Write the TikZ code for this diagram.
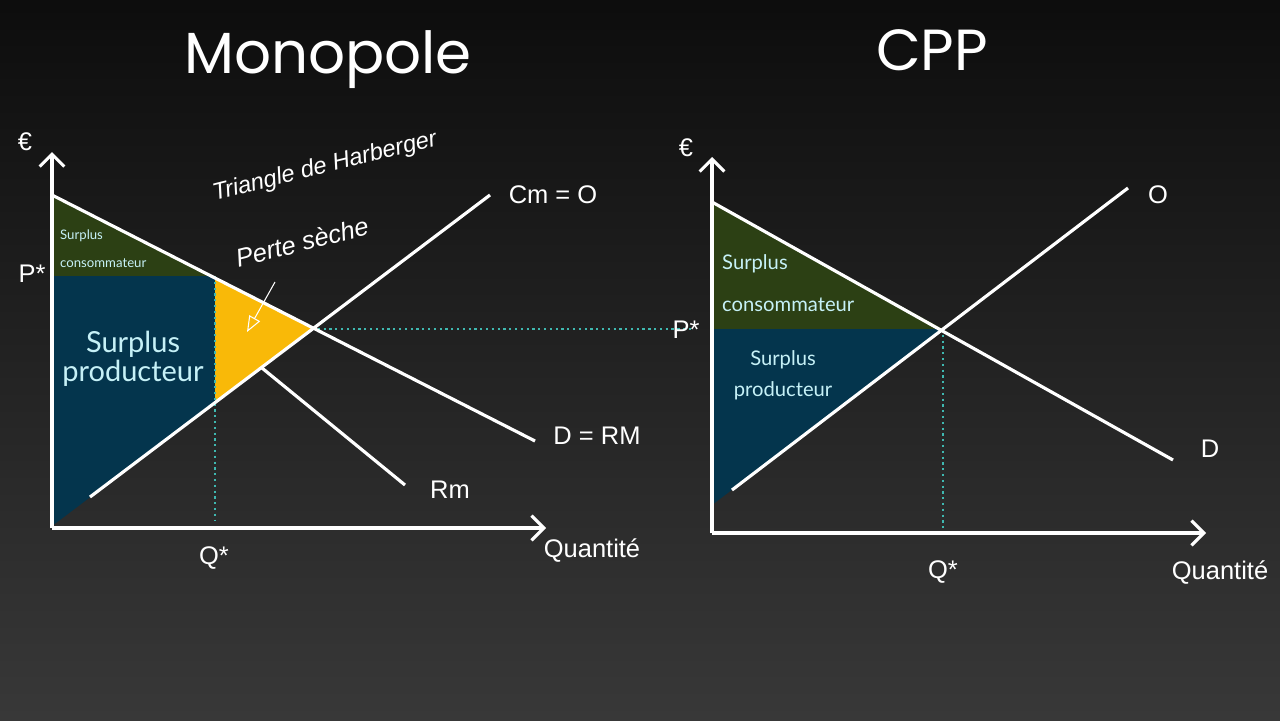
\documentclass[tikz,border=0pt]{standalone}
\usepackage{fontspec}
\setmainfont{Liberation Sans}
\newfontfamily\lato{Lato}
\newfontfamily\hand{Poppins}
\usetikzlibrary{arrows.meta}
\definecolor{cgreen}{HTML}{2C4014}
\definecolor{cblue}{HTML}{04354D}
\definecolor{cyel}{HTML}{F9B908}
\definecolor{ctxt}{HTML}{C6F1F7}
\definecolor{cdot}{HTML}{3FB8B0}
\tikzset{
 curve/.style={white,line width=1.8pt},
 axis/.style={white,line width=1.8pt,-{Straight Barb[length=7pt,width=14pt]}},
 dots/.style={cdot,line width=1.3pt,dotted},
 lab/.style={white,font=\fontsize{14.5}{14.5}\selectfont},
 sur/.style={ctxt,font=\lato\fontsize{#1}{#1}\selectfont,align=left},
}
\begin{document}
\begin{tikzpicture}[x=0.02cm,y=-0.02cm]
\shade[top color=black!95,bottom color=black!78] (0,0) rectangle (1280,720);
\useasboundingbox (0,0) rectangle (1280,720);
% titles
\node[white,font=\hand\fontsize{33}{33}\selectfont] (t1) at (328,60) {Monopole};
\node[white,font=\hand\fontsize{33}{33}\selectfont] (t2) at (932,50) {CPP};
% left graph fills
\fill[cgreen] (52,195) -- (215,278) -- (52,278) -- cycle;
\fill[cblue] (52,276) -- (215,276) -- (215,403) -- (52,526) -- cycle;
\fill[cyel] (215,278) -- (312,328) -- (215,403) -- cycle;
\draw[dots] (215,276) -- (215,520);
\draw[dots] (312,329) -- (692,329);
\coordinate (lo) at (52,528);
\coordinate (ly) at (52,152);
\coordinate (lx) at (546,528);
\draw[axis] (lo) -- (ly);
\draw[axis] (lo) -- (lx);
\draw[curve] (52,195) -- (535,441);
\draw[curve] (90,497) -- (490,195);
\draw[curve] (262,368) -- (405,485);
\node[lab] (e1) at (25,142) {€};
\node[lab] (p1) at (32,274) {P*};
\node[lab] (q1) at (214,558) {Q*};
\node[lab] (x1) at (592,551) {Quantité};
\node[lab] (o1) at (553,195) {Cm = O};
\node[lab] (d1) at (597,436) {D = RM};
\node[lab] (r1) at (450,490) {Rm};
\node[sur=7.5,anchor=west] (sc1) at (54,236) {Surplus};
\node[sur=7.5,anchor=west] (sc2) at (54,263) {consommateur};
\node[sur=16.5,align=center] (sp1) at (133,359) {Surplus\\[0pt]producteur};
\node[white,rotate=14,font=\itshape\fontsize{13.5}{13.5}\selectfont] (h1) at (325,167) {Triangle de Harberger};
\node[white,rotate=14,font=\itshape\fontsize{14.5}{14.5}\selectfont] (h2) at (302,242) {Perte sèche};
\draw[white,line width=0.6pt,-{Triangle[open,length=9pt,width=7pt]}] (275,282) -- (247,332);
% right graph
\fill[cgreen] (712,202) -- (943,329) -- (712,329) -- cycle;
\fill[cblue] (712,329) -- (943,329) -- (712,505) -- cycle;
\draw[dots] (943,329) -- (943,530);
\coordinate (ro) at (712,533);
\coordinate (ry) at (712,157);
\coordinate (rx) at (1206,533);
\draw[axis] (ro) -- (ry);
\draw[axis] (ro) -- (rx);
\draw[curve] (712,202) -- (1173,460);
\draw[curve] (732,490) -- (1128,188);
\node[lab] (e2) at (686,148) {€};
\node[lab] (p2) at (686,330) {P*};
\node[lab] (q2) at (943,572) {Q*};
\node[lab] (x2) at (1220,573) {Quantité};
\node[lab] (o2) at (1158,195) {O};
\node[lab] (d2) at (1210,449) {D};
\node[sur=11.5,anchor=west] (sc3) at (716,264) {Surplus};
\node[sur=11.5,anchor=west] (sc4) at (716,305) {consommateur};
\node[sur=11.5,align=center] (sp2) at (783,375) {Surplus\\[6pt]producteur};
\end{tikzpicture}
\end{document}
